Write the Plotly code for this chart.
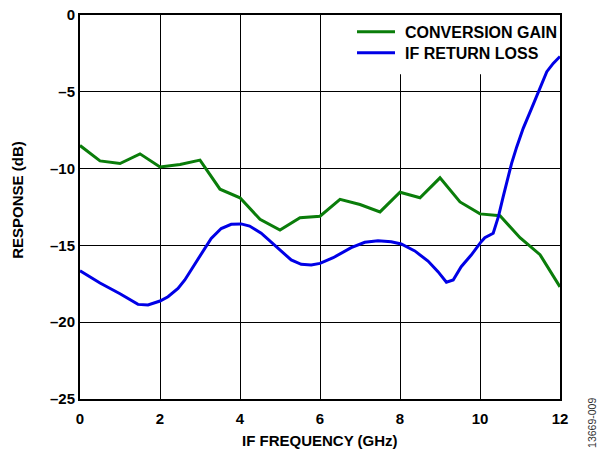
import plotly.graph_objects as go

# IF frequency sweep (GHz) and measured responses (dB)
gain_freq = [0, 0.5, 1, 1.5, 2, 2.5, 3, 3.5, 4, 4.5, 5, 5.5, 6, 6.5, 7, 7.5,
             8, 8.5, 9, 9.5, 10, 10.5, 11, 11.5, 12]
conversion_gain = [-8.5, -9.5, -9.67, -9.04, -9.89, -9.73, -9.45, -11.34, -11.9,
                   -13.3, -14.0, -13.2, -13.1, -12.0, -12.34, -12.82, -11.54,
                   -11.9, -10.6, -12.17, -12.95, -13.07, -14.5, -15.6, -17.7]

rl_freq = [0, 0.5, 1.0, 1.45, 1.7, 2.0, 2.2, 2.45, 2.62, 2.83, 3.03, 3.28, 3.53,
           3.78, 4.03, 4.24, 4.53, 4.95, 5.28, 5.53, 5.78, 6.0, 6.33, 6.78, 7.12,
           7.45, 7.78, 8.03, 8.37, 8.7, 8.95, 9.16, 9.33, 9.53, 9.78, 10.03,
           10.12, 10.33, 10.46, 10.58, 10.71, 10.79, 10.92, 11.08, 11.29, 11.46,
           11.67, 11.83, 11.96, 12.0]
if_return_loss = [-16.65, -17.45, -18.15, -18.84, -18.88, -18.62, -18.34, -17.8,
                  -17.25, -16.4, -15.5, -14.54, -13.9, -13.63, -13.6, -13.74,
                  -14.2, -15.2, -15.95, -16.23, -16.27, -16.17, -15.8, -15.15,
                  -14.8, -14.69, -14.76, -14.91, -15.36, -16.02, -16.71, -17.4,
                  -17.25, -16.39, -15.63, -14.76, -14.5, -14.21, -13.13, -11.83,
                  -10.53, -9.66, -8.57, -7.38, -6.08, -4.99, -3.69, -3.15, -2.76,
                  -2.7]

series_names = ["CONVERSION GAIN", "IF RETURN LOSS"]

x_ticks = [0, 2, 4, 6, 8, 10, 12]
x_ticktext = ["0", "2", "4", "6", "8", "10", "12"]
y_ticks = [0, -5, -10, -15, -20, -25]
y_ticktext = ["0", "–5", "–10", "–15", "–20", "–25"]

FONT = "Liberation Sans, Arial, sans-serif"
GREEN = "#0a7d0a"
BLUE = "#0000e6"
COLORS = [GREEN, BLUE]

fig = go.Figure()
fig.add_trace(go.Scatter(x=gain_freq, y=conversion_gain, mode="lines",
                         name=series_names[0],
                         line=dict(color=GREEN, width=3)))
fig.add_trace(go.Scatter(x=rl_freq, y=if_return_loss, mode="lines",
                         name=series_names[1],
                         line=dict(color=BLUE, width=3)))

# white panel behind the key hides the gridlines but stays under the traces
fig.add_shape(type="rect", xref="x", yref="y", x0=6.7, x1=12, y0=-3.85, y1=0,
              fillcolor="white", line=dict(width=0), layer="between")

# key: short line sample plus bold label for each series
key_rows_y = [0.9565, 0.9018]
for name, color, ky in zip(series_names, COLORS, key_rows_y):
    fig.add_shape(type="line", xref="paper", yref="paper",
                  x0=0.5771, x1=0.65625, y0=ky, y1=ky,
                  line=dict(color=color, width=3))
    fig.add_annotation(text=name, xref="paper", yref="paper",
                       x=0.6729, y=ky - 0.002, xanchor="left", yanchor="middle",
                       showarrow=False,
                       font=dict(family=FONT, size=16, color="black",
                                 weight="bold"))

axis_common = dict(
    showgrid=True, gridcolor="black", gridwidth=1,
    showline=True, linecolor="black", linewidth=2, mirror=True,
    zeroline=False, ticks="", automargin=False,
    tickfont=dict(family=FONT, size=15, color="black", weight="bold"),
)

fig.update_xaxes(range=[0, 12], tickvals=x_ticks, ticktext=x_ticktext,
                 ticklabelstandoff=5, **axis_common)
fig.update_yaxes(range=[-25, 0], tickvals=y_ticks, ticktext=y_ticktext,
                 **axis_common)

fig.add_annotation(text="IF FREQUENCY (GHz)", xref="paper", yref="paper",
                   x=0.5, y=-0.107, xanchor="center", yanchor="middle",
                   showarrow=False,
                   font=dict(family=FONT, size=15, color="black", weight="bold"))
fig.add_annotation(text="RESPONSE (dB)", xref="paper", yref="paper",
                   x=-0.132, y=0.518, xanchor="center", yanchor="middle",
                   textangle=-90, showarrow=False,
                   font=dict(family=FONT, size=15, color="black", weight="bold"))
fig.add_annotation(text="13669-009", xref="paper", yref="paper",
                   x=1.0665, y=-0.0625, xanchor="center", yanchor="middle",
                   textangle=-90, showarrow=False,
                   font=dict(family=FONT, size=10.5, color="#333333"))

fig.update_layout(
    width=600, height=449,
    margin=dict(l=80, r=40, t=15, b=50),
    paper_bgcolor="white", plot_bgcolor="white",
    showlegend=False,
)

fig.write_html("out.html")
